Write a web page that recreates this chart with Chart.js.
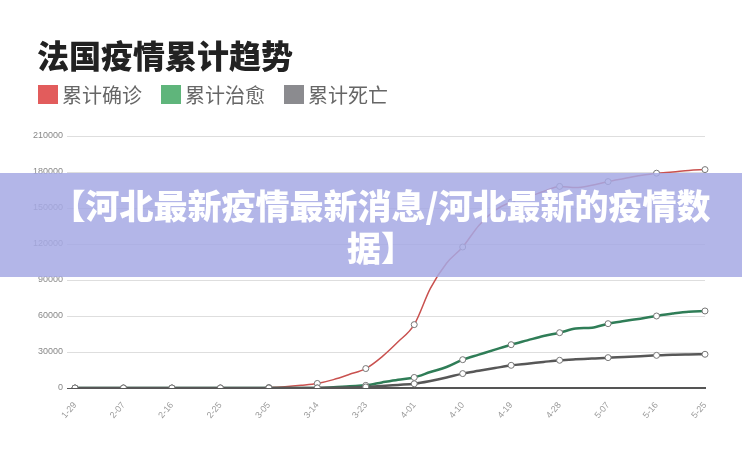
<!DOCTYPE html>
<html>
<head>
<meta charset="utf-8">
<script src="https://cdn.jsdelivr.net/npm/chart.js@4/dist/chart.umd.min.js"></script>
<style>
  html, body { margin: 0; padding: 0; background: #fff; }
  #wrap { position: relative; width: 742px; height: 450px; }
  #chart { position: absolute; left: 0; top: 0; }
  #title {
    position: absolute; left: 37px; top: 38px; margin: 0;
    font-family: "Noto Sans CJK SC", sans-serif; font-weight: 900;
    font-size: 32px; line-height: 32px; color: #222;
  }
  #legend {
    position: absolute; left: 38px; top: 85px; display: flex;
    font-family: "Noto Sans CJK SC", sans-serif; font-size: 20px; line-height: 19px; color: #666;
  }
  #legend .item { display: flex; align-items: center; margin-right: 19px; }
  #legend .box { width: 20px; height: 19px; margin-right: 4px; }
  #banner {
    position: absolute; left: 0; top: 173px; width: 742px; height: 104px;
    box-sizing: border-box; padding: 11px 20px 0 40px;
    background: rgba(166, 169, 228, 0.85);
    color: #fff; font-family: "Noto Sans CJK SC", sans-serif; font-weight: 900;
    font-size: 34px; line-height: 42px; text-align: center;
  }
</style>
</head>
<body>
<div id="wrap">
  <canvas id="chart" width="742" height="450"></canvas>
  <h1 id="title">法国疫情累计趋势</h1>
  <div id="legend"></div>
  <div id="banner">【河北最新疫情最新消息/河北最新的疫情数据】</div>
</div>
<script>
// 日期（每3天一个点）
const dates = ['1-29','2-01','2-04','2-07','2-10','2-13','2-16','2-19','2-22','2-25',
  '2-28','3-02','3-05','3-08','3-11','3-14','3-17','3-20','3-23','3-26',
  '3-29','4-01','4-04','4-07','4-10','4-13','4-16','4-19','4-22','4-25',
  '4-28','5-01','5-04','5-07','5-10','5-13','5-16','5-19','5-22','5-25'];

const seriesNames = ['累计确诊', '累计治愈', '累计死亡'];

const confirmed = [5,6,6,11,11,11,12,12,12,14,
  57,191,423,1126,2281,3800,7000,11400,16200,26000,
  38500,52800,83000,104000,117500,135500,148000,155000,159000,163700,
  168000,167000,169000,172000,174500,177000,179000,180000,181300,182000];

const recovered = [0,0,0,0,2,2,2,4,4,4,
  11,12,12,12,12,12,600,1500,2200,4600,
  6900,8800,13300,17500,23600,27800,32000,36100,39700,43300,
  46100,49500,50300,53600,55800,57800,60000,62000,63600,64200];

const deaths = [0,0,0,0,0,0,1,1,1,2,
  2,3,7,19,48,91,175,450,860,1700,
  2600,3500,5800,8700,12000,14300,16600,18900,20300,21700,
  23100,23900,24500,25300,25800,26400,27200,27800,28000,28100];

const yTicks = [0, 30000, 60000, 90000, 120000, 150000, 180000, 210000];

// 样式
const lineColors = ['#c9514f', '#2f7d57', '#575757'];
const swatchColors = ['#e25c5c', '#5fb57b', '#8b8b8f'];

// 图例
const legendBox = document.getElementById('legend');
seriesNames.forEach((name, i) => {
  const item = document.createElement('div');
  item.className = 'item';
  item.innerHTML = `<span class="box" style="background:${swatchColors[i]}"></span><span>${name}</span>`;
  legendBox.appendChild(item);
});

const markerRadius = dates.map((d, i) => i % 3 === 0 ? 3 : 0);

function makeSet(i, data, width, order) {
  return {
    label: seriesNames[i],
    data,
    borderColor: lineColors[i],
    backgroundColor: swatchColors[i],
    borderWidth: width,
    pointRadius: markerRadius,
    pointBackgroundColor: '#fff',
    pointBorderColor: '#777',
    pointBorderWidth: 1,
    pointHoverRadius: 0,
    cubicInterpolationMode: 'monotone',
    fill: false,
    order
  };
}

new Chart(document.getElementById('chart'), {
  type: 'line',
  data: {
    labels: dates,
    datasets: [
      makeSet(0, confirmed, 1.5, 2),
      makeSet(1, recovered, 2.5, 1),
      makeSet(2, deaths, 2.5, 0)
    ]
  },
  options: {
    responsive: false,
    animation: false,
    layout: { padding: { left: 33, right: 37, top: 136, bottom: 0 } },
    plugins: {
      tooltip: { enabled: false },
      title: { display: false },
      legend: { display: false }
    },
    scales: {
      x: {
        grid: { display: false },
        border: { color: '#555', width: 2 },
        afterFit(s) { s.height = 62; },
        ticks: {
          autoSkip: false,
          minRotation: 50,
          maxRotation: 50,
          padding: 4,
          color: '#9a9a9a',
          font: { family: 'Liberation Sans', size: 9 },
          callback(v, i) { return i % 3 === 0 ? dates[i] : ''; }
        }
      },
      y: {
        min: 0,
        max: 210000,
        afterFit(s) { s.width = 42; },
        afterBuildTicks(s) { s.ticks = yTicks.map(v => ({ value: v })); },
        border: { display: false },
        grid: {
          color: ctx => ctx.tick && ctx.tick.value === 0 ? '#555' : '#dedede',
          tickLength: 8
        },
        ticks: {
          padding: 4,
          color: '#888',
          font: { family: 'Liberation Sans', size: 9 },
          callback: v => String(v)
        }
      }
    }
  }
});
</script>
</body>
</html>
